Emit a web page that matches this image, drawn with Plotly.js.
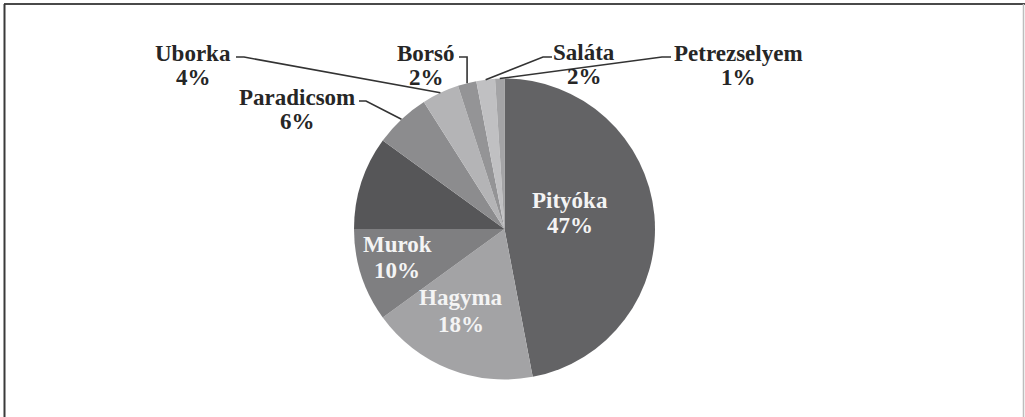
<!DOCTYPE html>
<html>
<head>
<meta charset="utf-8">
<script src="https://cdn.plot.ly/plotly-3.0.1.min.js"></script>
<style>html,body{margin:0;padding:0;background:#fff;}#chart{width:1025px;height:417px;}</style>
</head>
<body>
<div id="chart"></div>
<script>
// ---- data ----
var labels = ["Pityóka", "Hagyma", "Murok", "", "Paradicsom", "Uborka", "Borsó", "Saláta", "Petrezselyem"];
var values = [47, 18, 10, 10, 6, 4, 2, 2, 1];
var colors = ["#636365", "#a3a3a5", "#7f7f81", "#565658", "#8c8c8e", "#b4b4b6", "#949496", "#c0c0c2", "#a4a4a6"];

// ---- geometry (pixels) ----
var W = 1025, H = 417;
var cx = 504.5, cy = 229, R = 150.5;
function px(x){ return x / W; }
function py(y){ return 1 - y / H; }

var total = values.reduce(function(a,b){return a+b;}, 0);
var mids = [], acc = 0;
values.forEach(function(v){ mids.push((acc + v/2) / total * 360); acc += v; });
function edge(i){
  var a = mids[i] * Math.PI / 180;
  return [cx + R * Math.sin(a), cy - R * Math.cos(a)];
}
function pct(i){ return Math.round(values[i] / total * 100) + "%"; }

// label placement (layout only): [x, nameY, pctY]
var insideLab = {0:[570,200,226], 1:[461,297,324], 2:[397,244,270]};
var outsideLab = {
  4:{pos:[297,97,122], start:[359,101], elbow:[366,101]},
  5:{pos:[193,54,78],  start:[236,57],  elbow:[244,57]},
  6:{pos:[426,54,78],  start:[459,57],  elbow:null},
  7:{pos:[584,53,77],  start:[552,57],  elbow:[543,57]},
  8:{pos:[738,54,78],  start:[671,57],  elbow:[662,57]}
};

var font = "'Liberation Serif', 'Times New Roman', serif";
var annotations = [], shapes = [];
function addLabel(i, p, color){
  [[labels[i], p[1]], [pct(i), p[2]]].forEach(function(t){
    annotations.push({xref:"paper", yref:"paper", x:px(p[0]), y:py(t[1]), xanchor:"center", yanchor:"middle",
      showarrow:false, text:"<b>"+t[0]+"</b>", font:{family:font, size:23, color:color}});
  });
}
Object.keys(insideLab).forEach(function(k){ addLabel(+k, insideLab[k], "#f4f4f4"); });
Object.keys(outsideLab).forEach(function(k){
  var o = outsideLab[k];
  addLabel(+k, o.pos, "#262626");
  var e = edge(+k);
  var el = o.elbow ? o.elbow : [e[0], o.start[1]];
  var path = "M" + px(o.start[0]) + "," + py(o.start[1]) +
             " L" + px(el[0]) + "," + py(el[1]) +
             " L" + px(e[0]) + "," + py(e[1]);
  shapes.push({type:"path", xref:"paper", yref:"paper", path:path, line:{color:"#333", width:1.6}});
});
// frame
shapes.push({type:"line", xref:"paper", yref:"paper", x0:px(4), x1:1, y0:py(4), y1:py(4), line:{color:"#4a4a4a", width:2}});
shapes.push({type:"line", xref:"paper", yref:"paper", x0:px(4.5), x1:px(4.5), y0:py(4), y1:0, line:{color:"#3a3a3a", width:2}});
shapes.push({type:"line", xref:"paper", yref:"paper", x0:px(1023.5), x1:px(1023.5), y0:py(4), y1:0, line:{color:"#bdbdbd", width:1.5}});

var trace = {
  type:"pie", labels:labels.map(function(l){return l || " ";}), values:values,
  sort:false, direction:"clockwise", rotation:0,
  marker:{colors:colors, line:{width:0}},
  textinfo:"none", hoverinfo:"none", showlegend:false,
  domain:{x:[px(cx-R), px(cx+R)], y:[py(cy+R), py(cy-R)]}
};

Plotly.newPlot("chart", [trace], {
  width:W, height:H, margin:{l:0,r:0,t:0,b:0},
  paper_bgcolor:"#ffffff", showlegend:false,
  annotations:annotations, shapes:shapes
}, {staticPlot:true});
</script>
</body>
</html>
